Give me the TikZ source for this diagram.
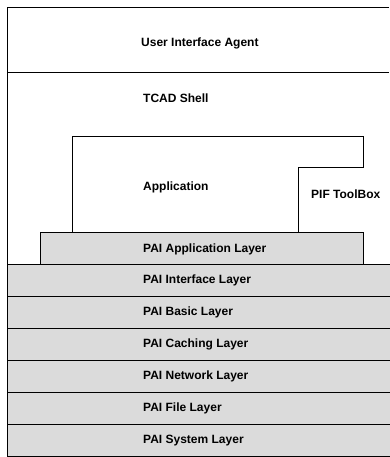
\documentclass[tikz,border=0pt]{standalone}
\usepackage{fontspec}
\setmainfont{Liberation Sans}
\usetikzlibrary{positioning}

\begin{document}
\begin{tikzpicture}[x=1pt, y=-1pt,
  every node/.style={font=\bfseries\fontsize{12}{14}\selectfont, anchor=west, inner sep=0pt},
  frame/.style={line width=0.8pt},
  layer/.style={draw, line width=0.8pt, fill=gray!28}]
  \useasboundingbox (0,0) rectangle (389,457);

  % Outer frame: UI agent and TCAD shell
  \draw[frame] (389,7) -- (7,7) -- (7,457);
  \draw[frame] (7,72) -- (389,72);
  \node (uia) at (141,43) {User Interface Agent};
  \node (shell) at (143,98) {TCAD Shell};

  % Application and PIF toolbox
  \draw[frame] (72,232) -- (72,136) -- (363,136) -- (363,167) -- (298,167) -- (298,232);
  \node (app) at (143,187) {Application};
  \node (pif) at (311,194) {PIF ToolBox};

  % PAI layers
  \draw[layer] (40,232) rectangle (363,264);
  \node (pai0) at (143,249) {PAI Application Layer};
  \foreach \name [count=\i] in {Interface, Basic, Caching, Network, File, System} {
    \draw[layer] (7,{264+(\i-1)*32.1}) rectangle (392,{264+\i*32.1});
    \node (pai\i) at (143,{280+(\i-1)*32.1}) {PAI \name\ Layer};
  }
\end{tikzpicture}
\end{document}
